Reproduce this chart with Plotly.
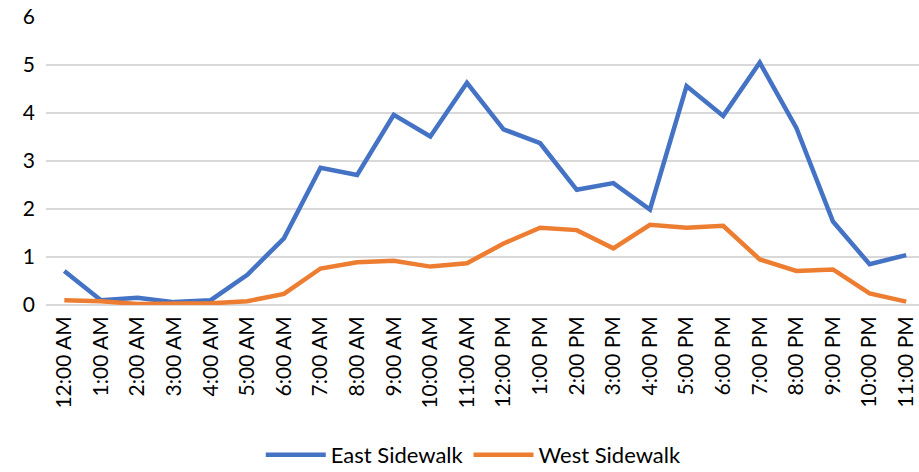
import plotly.graph_objects as go

hours = ["12:00 AM", "1:00 AM", "2:00 AM", "3:00 AM", "4:00 AM", "5:00 AM",
         "6:00 AM", "7:00 AM", "8:00 AM", "9:00 AM", "10:00 AM", "11:00 AM",
         "12:00 PM", "1:00 PM", "2:00 PM", "3:00 PM", "4:00 PM", "5:00 PM",
         "6:00 PM", "7:00 PM", "8:00 PM", "9:00 PM", "10:00 PM", "11:00 PM"]

east_sidewalk = [0.71, 0.10, 0.15, 0.06, 0.10, 0.63, 1.39, 2.86, 2.71, 3.96, 3.51, 4.63,
                 3.66, 3.37, 2.40, 2.54, 1.99, 4.56, 3.94, 5.05, 3.69, 1.74, 0.85, 1.04]
west_sidewalk = [0.10, 0.08, 0.02, 0.02, 0.035, 0.08, 0.23, 0.76, 0.89, 0.92, 0.80, 0.87,
                 1.28, 1.61, 1.56, 1.18, 1.67, 1.61, 1.65, 0.95, 0.71, 0.74, 0.24, 0.07]

y_ticks = [0, 1, 2, 3, 4, 5, 6]

FONT = "Lato"

fig = go.Figure()
fig.add_trace(go.Scatter(x=list(range(len(hours))), y=east_sidewalk, mode="lines",
                         name="East Sidewalk",
                         line=dict(color="#4472C4", width=4.5, shape="linear")))
fig.add_trace(go.Scatter(x=list(range(len(hours))), y=west_sidewalk, mode="lines",
                         name="West Sidewalk",
                         line=dict(color="#ED7D31", width=4.5, shape="linear")))

fig.update_layout(
    width=919, height=472,
    margin=dict(l=46, r=0, t=17, b=167, autoexpand=False),
    paper_bgcolor="white", plot_bgcolor="white",
    font=dict(family=FONT, size=21, color="#000000"),
    showlegend=True,
    legend=dict(orientation="h", x=0.49, xanchor="center",
                yref="container", y=0.036, yanchor="middle",
                font=dict(family=FONT, size=22, color="#000000"),
                itemwidth=60, tracegroupgap=0, traceorder="normal"),
    xaxis=dict(
        tickmode="array", tickvals=list(range(len(hours))), ticktext=hours,
        tickangle=-90, range=[-0.5, 23.35], showgrid=False, zeroline=False,
        showline=False, ticks="", tickfont=dict(family=FONT, size=21),
        ticklabelstandoff=6, automargin=False,
    ),
    yaxis=dict(
        range=[0, 6], tickvals=y_ticks, showgrid=True, gridcolor="#D9D9D9",
        gridwidth=1.5, zeroline=True, zerolinecolor="#D9D9D9", zerolinewidth=1.5,
        showline=False, ticks="", tickfont=dict(family=FONT, size=21), ticklabelstandoff=10,
        automargin=False,
    ),
)

fig.write_html("out.html")
